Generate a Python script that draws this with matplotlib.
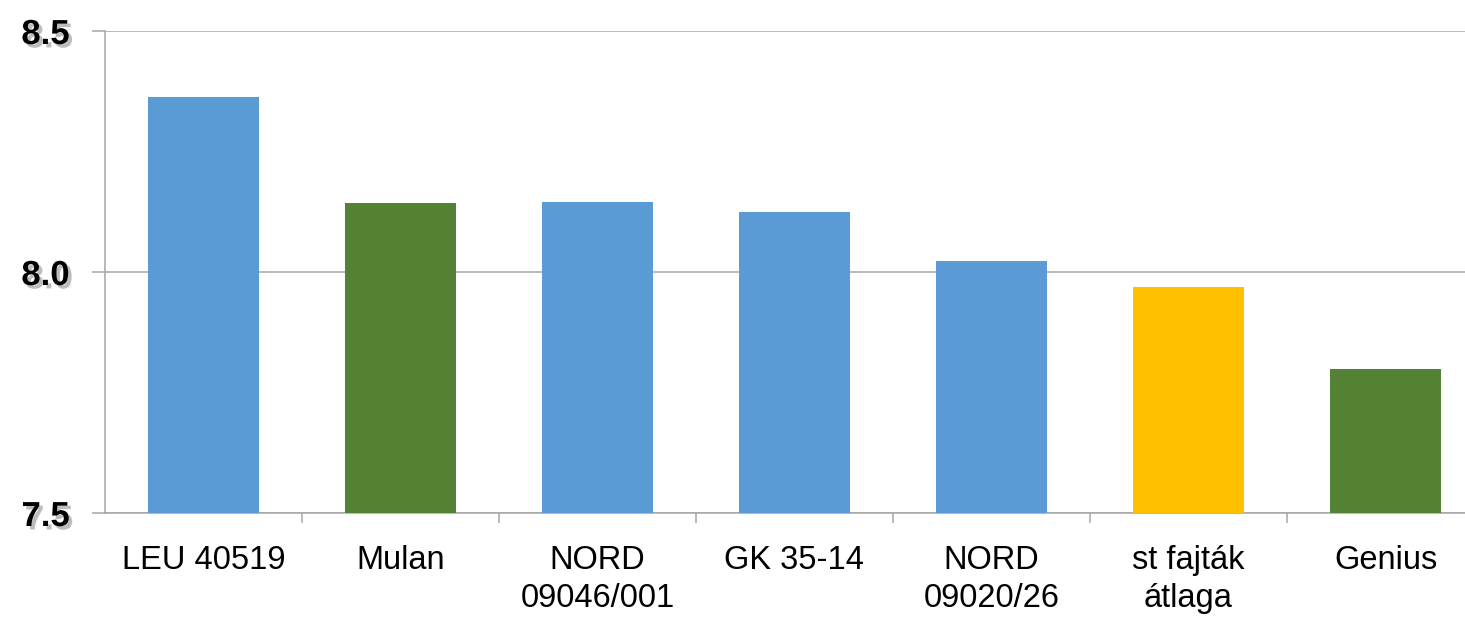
import matplotlib
matplotlib.use("Agg")
import matplotlib.pyplot as plt
import matplotlib.patheffects as pe

categories = ["LEU 40519", "Mulan", "NORD\n09046/001", "GK 35-14",
              "NORD\n09020/26", "st fajták\nátlaga", "Genius"]
values = [8.363, 8.143, 8.145, 8.124, 8.023, 7.969, 7.799]
colors = ["#5B9BD5", "#548235", "#5B9BD5", "#5B9BD5",
          "#5B9BD5", "#FFC000", "#548235"]
yticks = [7.5, 8.0, 8.5]

fam = ["Liberation Sans Narrow", "Liberation Sans", "DejaVu Sans"]

W, H = 1465, 623
fig = plt.figure(figsize=(W / 100, H / 100), dpi=100)
# plot area: x from 105 px, 197 px per category; y from 31 to 513 px
ax = fig.add_axes([105 / W, 1 - 513 / H, 7 * 197 / W, 482 / H])

x = range(len(categories))
ax.bar(x, values, width=0.56, color=colors, zorder=3)

ax.set_xlim(-0.5, 6.5)
ax.set_ylim(7.5, 8.5)
ax.set_yticks(yticks)
ax.set_yticklabels([f"{v:.1f}" for v in yticks])
ax.yaxis.grid(True, color="#A6A6A6", linewidth=1.1, zorder=0)

for s in ["top", "right"]:
    ax.spines[s].set_visible(False)
for s in ["left", "bottom"]:
    ax.spines[s].set_color("#A6A6A6")
    ax.spines[s].set_linewidth(1.1)

ax.set_xticks([i - 0.5 for i in range(1, 7)], minor=False)
ax.set_xticklabels([])
ax.set_xticks(list(x), minor=True)
ax.set_xticklabels(categories, minor=True, fontsize=23.5, family=fam,
                   linespacing=1.3, va="top")
ax.tick_params(axis="x", which="major", length=7.5, width=1.1, color="#A6A6A6")
ax.tick_params(axis="x", which="minor", length=0, pad=23)
ax.tick_params(axis="y", length=9.5, width=1.1, color="#A6A6A6", pad=16)

for lab in ax.get_yticklabels():
    lab.set_family(fam)
    lab.set_fontsize(25)
    lab.set_fontweight("bold")
    lab.set_path_effects([pe.SimplePatchShadow(offset=(2.5, -2.5), alpha=0.35,
                                               shadow_rgbFace="#444444"),
                          pe.Normal()])

fig.savefig("out.png", dpi=100)
